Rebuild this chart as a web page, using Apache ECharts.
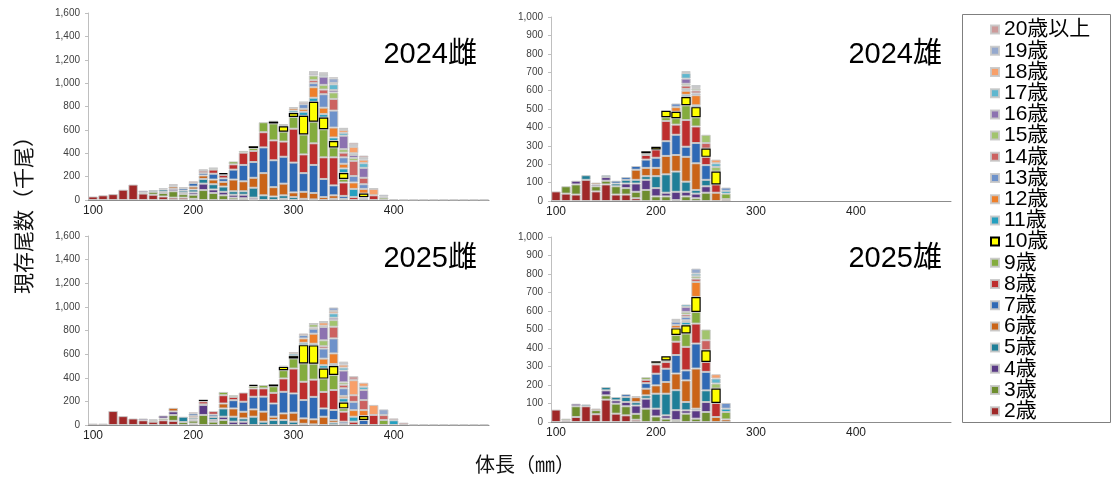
<!DOCTYPE html>
<html>
<head>
<meta charset="utf-8">
<script src="https://cdn.jsdelivr.net/npm/echarts@6/dist/echarts.min.js"></script>
<style>
  html, body { margin: 0; padding: 0; background: #fff; }
  #main { width: 1112px; height: 481px; }
</style>
</head>
<body>
<div id="main"></div>
<script>
// 体長階級 (mm)
var lengths = ['100','110','120','130','140','150','160','170','180','190',
               '200','210','220','230','240','250','260','270','280','290',
               '300','310','320','330','340','350','360','370','380','390',
               '400','410','420','430','440','450','460','470','480','490'];

var ages = ['2歳','3歳','4歳','5歳','6歳','7歳','8歳','9歳','10歳','11歳',
            '12歳','13歳','14歳','15歳','16歳','17歳','18歳','19歳','20歳以上'];

var ageColors = ['#a02828','#6e8e2e','#5a3a86','#1f7f98','#ca6418','#2f69b5','#be2e2e','#84ac3e','#ffff00','#24a0c0',
                 '#ee7f2a','#6e92ca','#cc6260','#a2c46e','#8c72b0','#5fb7cf','#f8a06a','#95a9ce','#cd9a9a'];

// each row = one length class, columns = 2歳 ... 20歳以上 (千尾)
var female2024 = [
  [30],[40],[50],[88],[132],
  [55,10,15],
  [45,25,0,15],
  [30,30,10,20,0,10],
  [20,55,20,0,20,10,10],
  [20,30,10,20,0,20,10],
  [10,35,20,25,25,30,15],
  [0,85,55,40,30,20,20,5,0,5],
  [0,60,30,45,40,50,35,10,0,5],
  [0,40,30,45,40,30,30,5,10],
  [0,20,25,30,100,85,45,25],
  [0,15,30,30,85,140,105,15],
  [0,5,15,85,85,135,95,25,15],
  [0,0,0,40,190,220,130,85],
  [0,0,0,30,80,230,170,145,15,5],
  [0,0,10,30,100,230,130,85,45,10,10],
  [0,0,0,25,40,255,290,100,35,20,20,10],
  [0,0,0,10,60,160,160,170,160,35,25,40,15,5],
  [0,0,0,5,55,240,185,185,170,35,90,35,25,40,15,5,5,5,5],
  [0,0,0,0,25,155,185,240,100,30,55,115,40,40,70,15,5,10,5],
  [0,0,0,10,30,85,240,85,55,30,85,145,100,55,20,50,10,40,10],
  [0,0,0,0,10,25,115,30,50,40,40,55,40,30,115,25,25,10,5],
  [0,0,0,0,0,0,25,0,0,70,55,55,130,25,25,15,55,15,20],
  [0,0,0,0,0,15,10,0,30,0,40,40,55,0,85,40,30,15,20],
  [0,0,0,0,0,0,40,0,0,0,0,0,0,0,0,0,55,0,5],
  [0,0,0,0,0,0,0,20,0,0,0,10,0,0,0,0,0,15],
  [0,0,0,0,0,0,0,0,0,0,0,0,0,0,0,0,0,0,6],
  [0,0,0,0,0,0,0,0,0,0,0,0,0,0,0,0,0,0,3],
  [0,0,0,0,0,0,0,0,0,0,0,0,0,0,0,0,0,0,3],
  [0,0,0,0,0,0,0,0,0,0,0,0,0,0,0,0,0,0,3],
  [0,0,0,0,0,0,0,0,0,0,0,0,0,0,0,0,0,0,3],
  [0,0,0,0,0,0,0,0,0,0,0,0,0,0,0,0,0,0,3],
  [0,0,0,0,0,0,0,0,0,0,0,0,0,0,0,0,0,0,3],
  [0,0,0,0,0,0,0,0,0,0,0,0,0,0,0,0,0,0,3],
  [0,0,0,0,0,0,0,0,0,0,0,0,0,0,0,0,0,0,3],
  [0,0,0,0,0,0,0,0,0,0,0,0,0,0,0,0,0,0,3]
];

var male2024 = [
  [52],
  [40,40],
  [35,55,20],
  [115,0,0,25],
  [52,28,10,0,10],
  [90,20,20,10],
  [35,45,0,15,0,15],
  [35,35,25,20,0,15],
  [15,35,45,20,55,20],
  [0,60,55,20,45,45,25,10,10],
  [0,25,45,65,45,55,45,0,15],
  [0,25,20,100,100,80,110,20,35],
  [0,5,45,110,90,110,55,35,35,0,25,20],
  [0,25,25,55,135,55,145,80,45,12,22,10,18,10,28,30,5,5],
  [0,15,25,20,145,110,90,50,55,10,55,10,15,10,5,5,0,10],
  [0,45,35,35,0,80,45,0,45,0,0,0,30,45],
  [0,0,0,0,45,0,45,0,70,0,0,0,0,25,0,20,20],
  [0,0,0,0,10,0,0,30,0,15,0,18]
];

var female2025 = [
  [12],[12],[118],[75],[55],
  [40,0,15],
  [28,12,0,8],
  [40,15,25],
  [35,50,30,0,30],
  [0,25,0,45],
  [12,25,10,15,15,20,10],
  [0,85,85,0,0,5,25,5,5,0,5],
  [0,28,15,25,0,20,28],
  [0,42,28,70,42,0,70,28],
  [0,0,28,42,70,70,28,14],
  [0,0,28,28,56,85,78],
  [0,0,0,70,62,107,70,22,10],
  [0,0,0,28,85,127,70,28],
  [0,0,0,42,28,112,90,56,15],
  [0,0,0,42,56,183,113,70,28,10],
  [0,0,0,28,76,163,211,85,20,20,15],
  [0,0,0,10,46,155,155,155,155,20,37,28,14],
  [0,0,0,5,43,190,146,135,155,14,85,42,10,28,5,0,0,0,2],
  [0,0,0,0,70,70,140,113,85,28,56,85,20,50,113,10,28,5,5],
  [0,0,0,20,22,85,169,127,76,17,90,127,99,56,20,37,20,30],
  [0,0,0,0,10,18,85,28,50,35,20,65,30,20,100,25,25,15,10],
  [0,0,0,0,0,0,28,0,0,42,56,70,56,0,0,0,127,0,34],
  [0,0,0,0,0,42,0,0,34,0,50,0,85,0,85,28,34],
  [0,0,0,0,0,0,85,0,0,0,0,0,0,0,0,0,85],
  [0,0,0,0,0,0,0,42,0,0,0,0,42,0,0,0,0,48],
  [0,0,0,0,0,0,0,0,0,40,0,0,0,0,0,0,0,0,16],
  [0,0,0,0,0,0,0,0,0,0,0,0,0,0,0,0,0,0,20],
  [0,0,0,0,0,0,0,0,0,0,0,0,0,0,0,0,0,0,5],
  [0,0,0,0,0,0,0,0,0,0,0,0,0,0,0,0,0,0,5],
  [0,0,0,0,0,0,0,0,0,0,0,0,0,0,0,0,0,0,5],
  [0,0,0,0,0,0,0,0,0,0,0,0,0,0,0,0,0,0,5],
  [0,0,0,0,0,0,0,0,0,0,0,0,0,0,0,0,0,0,5],
  [0,0,0,0,0,0,0,0,0,0,0,0,0,0,0,0,0,0,5],
  [0,0,0,0,0,0,0,0,0,0,0,0,0,0,0,0,0,0,5],
  [0,0,0,0,0,0,0,0,0,0,0,0,0,0,0,0,0,0,5]
];

var male2025 = [
  [67],
  [9,9],
  [27,58,14],
  [85,0,0,10],
  [42,22,0,0,9],
  [121,23,27,18],
  [45,54,18,18],
  [36,49,23,27,0,15],
  [12,32,45,18,27,6],
  [0,72,54,18,36,30,18,14],
  [0,30,42,81,45,63,50,9,8],
  [0,18,18,117,63,72,36,9,22],
  [0,10,54,108,90,100,72,36,36,0,18,18,5,5,0,5],
  [0,45,18,45,117,54,127,72,45,18,9,18,13,14,27,13],
  [0,18,45,9,217,135,108,63,81,0,81,0,18,13,0,14,0,27],
  [0,54,54,63,0,100,54,0,63,0,0,0,54,58],
  [0,0,0,0,27,0,76,0,78,0,0,0,0,27,0,27,23],
  [0,0,0,0,14,0,0,40,0,18,0,31]
];

var panelTitles = ['2024雌','2024雄','2025雌','2025雄'];
var panelData = [female2024, male2024, female2025, male2025];
var panelMax = [1600, 1000, 1600, 1000];
var panelStep = [200, 100, 200, 100];

var grids = [
  {left: 88, top: 13, width: 401, height: 187},
  {left: 551, top: 17, width: 400, height: 184},
  {left: 88, top: 236, width: 401, height: 189},
  {left: 551, top: 237, width: 400, height: 185}
];
var titlePos = [[477, 55], [942, 55], [477, 259], [942, 259]];

function comma(v){
  return String(v).replace(/\B(?=(\d{3})+(?!\d))/g, ',');
}

var chart = echarts.init(document.getElementById('main'));

var xAxes = [], yAxes = [], series = [], graphics = [];
for (var p = 0; p < 4; p++) {
  xAxes.push({
    type: 'category', gridIndex: p, data: lengths, boundaryGap: true,
    axisLine: {lineStyle: {color: '#8c8c8c'}},
    axisTick: {interval: 4, length: 4, lineStyle: {color: '#8c8c8c'}},
    axisLabel: {interval: 9, fontSize: 12, color: '#222', margin: 5, fontFamily: 'Liberation Sans'}
  });
  yAxes.push({
    type: 'value', gridIndex: p, min: 0, max: panelMax[p], interval: panelStep[p],
    axisLine: {show: true, lineStyle: {color: '#bfbfbf'}},
    axisTick: {show: true, length: 3, lineStyle: {color: '#bfbfbf'}},
    splitLine: {show: false},
    axisLabel: {fontSize: 10, color: '#404040', margin: 8, fontFamily: 'Liberation Sans', formatter: comma}
  });
  for (var a = 0; a < ages.length; a++) {
    var rows = panelData[p];
    var vals = rows.map(function(r){ return r[a] ? r[a] : '-'; });
    var isTen = ages[a] === '10歳';
    series.push({
      type: 'bar', name: ages[a], stack: 'p' + p,
      xAxisIndex: p, yAxisIndex: p,
      barCategoryGap: '6%',
      z: isTen ? 3 : 2,
      itemStyle: {
        color: ageColors[a],
        borderColor: isTen ? '#000' : 'rgba(200,200,200,0.9)',
        borderWidth: isTen ? 1.2 : 1
      },
      data: vals
    });
  }
  graphics.push({
    type: 'text', x: titlePos[p][0], y: titlePos[p][1],
    style: {text: panelTitles[p], font: '29px "Liberation Sans","Noto Sans CJK JP"', fill: '#000',
            align: 'right', verticalAlign: 'middle'}
  });
}

graphics.push({
  type: 'text', x: 23, y: 210, rotation: Math.PI / 2,
  style: {text: '現存尾数（千尾）', font: '21px "Noto Sans CJK JP"', fill: '#111',
          align: 'center', verticalAlign: 'middle'}
});
graphics.push({
  type: 'text', x: 525, y: 464,
  style: {text: '体長（㎜）', font: '20px "Noto Sans CJK JP"', fill: '#111',
          align: 'center', verticalAlign: 'middle'}
});
graphics.push({
  type: 'rect', shape: {x: 962.5, y: 14.5, width: 148, height: 408},
  style: {fill: 'none', stroke: '#7f7f7f', lineWidth: 1}
});

chart.setOption({
  animation: false,
  backgroundColor: '#fff',
  grid: grids,
  xAxis: xAxes,
  yAxis: yAxes,
  legend: {
    orient: 'vertical', left: 985, top: 14,
    icon: 'rect', itemWidth: 8, itemHeight: 8, itemGap: 0,
    selectedMode: false,
    data: ages.slice().reverse(),
    textStyle: {fontSize: 21, lineHeight: 21.2, color: '#000', fontFamily: '"Liberation Sans","Noto Sans CJK JP"'}
  },
  graphic: graphics,
  series: series
});
</script>
</body>
</html>
